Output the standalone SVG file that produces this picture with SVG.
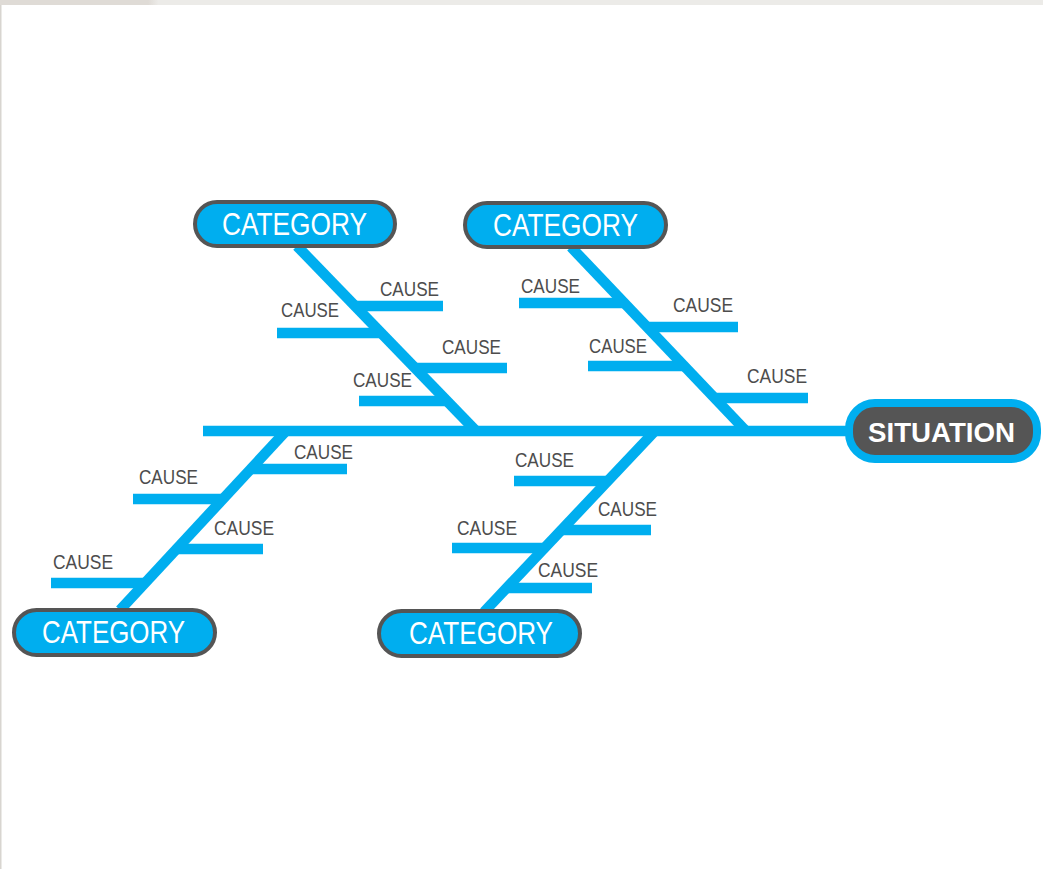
<svg xmlns="http://www.w3.org/2000/svg" width="1043" height="869" viewBox="0 0 1043 869">
  <defs>
    <linearGradient id="topband" x1="0" y1="0" x2="1043" y2="0" gradientUnits="userSpaceOnUse">
      <stop offset="0" stop-color="#dfdbd6"/>
      <stop offset="0.142" stop-color="#dfdbd6"/>
      <stop offset="0.152" stop-color="#ecebe8"/>
      <stop offset="1" stop-color="#ecebe8"/>
    </linearGradient>
    <style>
      .bone { stroke: #00aeef; stroke-width: 10.5; fill: none; stroke-linecap: butt; }
      .pill { fill: #00aeef; stroke: #555555; stroke-width: 4; }
      .cat  { font-family: "Liberation Sans", Arial, sans-serif; font-size: 31px; fill: #ffffff; }
      .cause { font-family: "Liberation Sans", Arial, sans-serif; font-size: 19.5px; fill: #4d4d4d; }
      .sit  { font-family: "Liberation Sans", Arial, sans-serif; font-size: 28px; font-weight: bold; fill: #ffffff; }
    </style>
  </defs>

  <!-- page background and frame -->
  <rect x="0" y="0" width="1043" height="869" fill="#ffffff"/>
  <rect x="0" y="0" width="1043" height="5" fill="url(#topband)"/>
  <rect x="0" y="5" width="1.5" height="864" fill="#d8d5d0"/>

  <!-- spine, bones and cause ribs -->
  <g id="connectors">
    <line class="bone" x1="203" y1="431" x2="848" y2="431"/>

    <!-- upper left bone -->
    <line class="bone" x1="297" y1="246" x2="476" y2="431"/>
    <line class="bone" x1="355" y1="306" x2="443" y2="306"/>
    <line class="bone" x1="277" y1="333" x2="382" y2="333"/>
    <line class="bone" x1="414" y1="368" x2="507" y2="368"/>
    <line class="bone" x1="359" y1="401" x2="447" y2="401"/>

    <!-- upper right bone -->
    <line class="bone" x1="571" y1="247" x2="746" y2="431"/>
    <line class="bone" x1="519" y1="303" x2="625" y2="303"/>
    <line class="bone" x1="646" y1="327" x2="738" y2="327"/>
    <line class="bone" x1="588" y1="366" x2="684" y2="366"/>
    <line class="bone" x1="714" y1="398" x2="808" y2="398"/>

    <!-- lower left bone -->
    <line class="bone" x1="286" y1="431" x2="120" y2="610"/>
    <line class="bone" x1="249" y1="469" x2="347" y2="469"/>
    <line class="bone" x1="133" y1="499" x2="223" y2="499"/>
    <line class="bone" x1="176" y1="549" x2="263" y2="549"/>
    <line class="bone" x1="51" y1="583" x2="145" y2="583"/>

    <!-- lower middle bone -->
    <line class="bone" x1="655" y1="431" x2="484" y2="612"/>
    <line class="bone" x1="514" y1="481" x2="608" y2="481"/>
    <line class="bone" x1="561" y1="530" x2="651" y2="530"/>
    <line class="bone" x1="452" y1="548" x2="545" y2="548"/>
    <line class="bone" x1="507" y1="588" x2="592" y2="588"/>
  </g>

  <!-- cause labels -->
  <g id="causes">
    <text class="cause" x="380" y="296" textLength="59" lengthAdjust="spacingAndGlyphs">CAUSE</text>
    <text class="cause" x="281" y="317" textLength="58" lengthAdjust="spacingAndGlyphs">CAUSE</text>
    <text class="cause" x="442" y="354" textLength="59" lengthAdjust="spacingAndGlyphs">CAUSE</text>
    <text class="cause" x="353" y="387" textLength="59" lengthAdjust="spacingAndGlyphs">CAUSE</text>

    <text class="cause" x="521" y="293" textLength="59" lengthAdjust="spacingAndGlyphs">CAUSE</text>
    <text class="cause" x="673" y="312" textLength="60" lengthAdjust="spacingAndGlyphs">CAUSE</text>
    <text class="cause" x="589" y="353" textLength="58" lengthAdjust="spacingAndGlyphs">CAUSE</text>
    <text class="cause" x="747" y="383" textLength="60" lengthAdjust="spacingAndGlyphs">CAUSE</text>

    <text class="cause" x="294" y="459" textLength="59" lengthAdjust="spacingAndGlyphs">CAUSE</text>
    <text class="cause" x="139" y="484" textLength="59" lengthAdjust="spacingAndGlyphs">CAUSE</text>
    <text class="cause" x="214" y="535" textLength="60" lengthAdjust="spacingAndGlyphs">CAUSE</text>
    <text class="cause" x="53" y="569" textLength="60" lengthAdjust="spacingAndGlyphs">CAUSE</text>

    <text class="cause" x="515" y="467" textLength="59" lengthAdjust="spacingAndGlyphs">CAUSE</text>
    <text class="cause" x="598" y="516" textLength="59" lengthAdjust="spacingAndGlyphs">CAUSE</text>
    <text class="cause" x="457" y="535" textLength="60" lengthAdjust="spacingAndGlyphs">CAUSE</text>
    <text class="cause" x="538" y="577" textLength="60" lengthAdjust="spacingAndGlyphs">CAUSE</text>
  </g>

  <!-- category nodes -->
  <g id="category-top-left">
    <rect class="pill" x="195" y="202" width="200" height="44" rx="22"/>
    <text class="cat" x="222" y="235" textLength="145" lengthAdjust="spacingAndGlyphs">CATEGORY</text>
  </g>
  <g id="category-top-right">
    <rect class="pill" x="465" y="203" width="201" height="44" rx="22"/>
    <text class="cat" x="493" y="236" textLength="145" lengthAdjust="spacingAndGlyphs">CATEGORY</text>
  </g>
  <g id="category-bottom-left">
    <rect class="pill" x="14" y="610" width="201" height="45" rx="22.5"/>
    <text class="cat" x="42" y="643" textLength="143" lengthAdjust="spacingAndGlyphs">CATEGORY</text>
  </g>
  <g id="category-bottom-middle">
    <rect class="pill" x="379" y="611" width="201" height="45" rx="22.5"/>
    <text class="cat" x="409" y="644" textLength="144" lengthAdjust="spacingAndGlyphs">CATEGORY</text>
  </g>

  <!-- head node -->
  <g id="situation">
    <rect x="849" y="403" width="188" height="56" rx="26" fill="#555555" stroke="#00aeef" stroke-width="8"/>
    <text class="sit" x="868" y="442" textLength="147" lengthAdjust="spacingAndGlyphs">SITUATION</text>
  </g>
</svg>
